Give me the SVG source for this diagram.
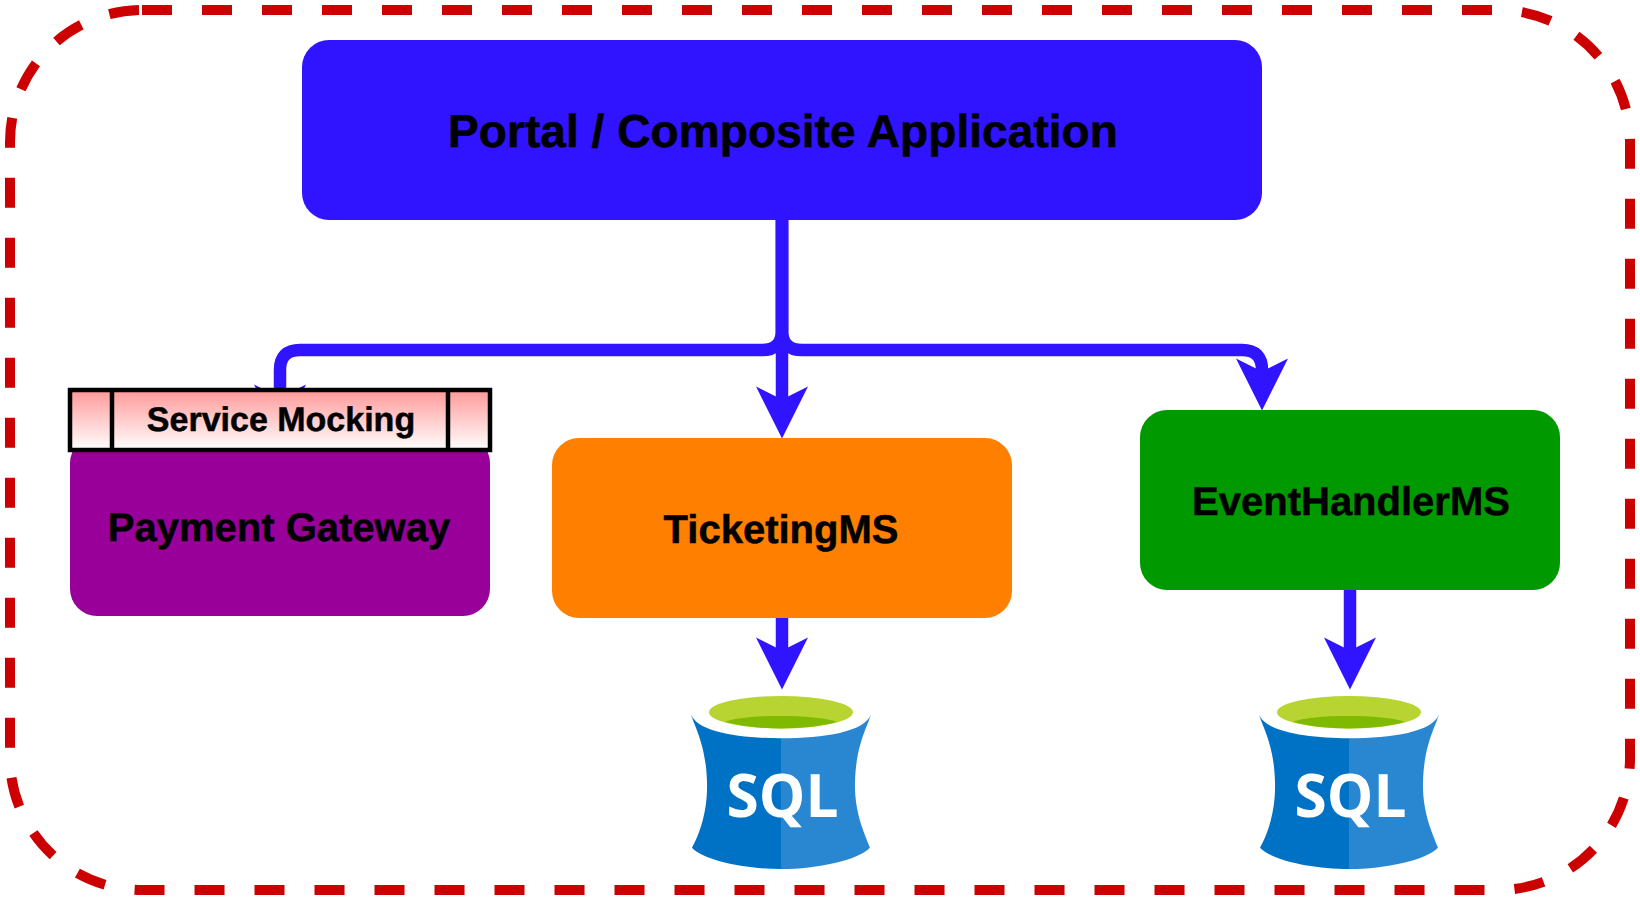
<svg xmlns="http://www.w3.org/2000/svg" xmlns:xlink="http://www.w3.org/1999/xlink" width="1640" height="900" viewBox="0 0 1640 900">
<style>
text{font-family:"Liberation Sans",Arial,sans-serif;font-weight:700;fill:#000;stroke:#000;stroke-width:.5px;text-anchor:middle;text-rendering:geometricPrecision}
.edge{fill:none;stroke:#3014ff;stroke-width:12.500px}
.head{fill:#3014ff}
.sql{font-family:"Open Sans","Noto Sans",sans-serif;font-weight:700;font-size:60px;fill:#fff;stroke:none}
</style>
<defs>
<linearGradient id="mock" x1="0" y1="0" x2="0" y2="1"><stop offset="0" stop-color="#ff9999"/><stop offset="1" stop-color="#ffffff"/></linearGradient>
<polygon id="arrow" class="head" points="0,0.500 -26,-51.500 0,-38.500 26,-51.500"/>
<g id="db">
<path fill="#0072c6" d="M691,714.300 C695,728 706,745 707,781.700 C708,812 699,835 692,847.700 C703,860 745,869 781,869 L781,738.300 C740,738.300 697,732 691,714.300Z"/>
<path fill="#2986d1" d="M871,714.300 C867,728 856,745 855,781.700 C854,812 865,835 870,847.700 C858,860 818,869 781,869 L781,738.300 C824,738.300 865,732 871,714.300Z"/>
<ellipse cx="781" cy="712.200" rx="72" ry="16.200" fill="#b8d432"/>
<path fill="#7fba00" d="M725,721.700 C745,714 815,714 837,721.700 C820,726.500 800,728.400 781,728.400 C762,728.400 742,726.500 725,721.700Z"/>
</g>
</defs>
<rect id="boundary" x="10" y="10" width="1620" height="880" rx="132" ry="132" fill="none" stroke="#cc0000" stroke-width="10" stroke-dasharray="30 30"/>
<g id="connectors">
<path class="edge" d="M782,220V330Q782,350 762,350H300Q280,350 280,370V400"/>
<use xlink:href="#arrow" href="#arrow" x="280" y="436"/>
<path class="edge" d="M782,220V400"/>
<use xlink:href="#arrow" href="#arrow" x="782" y="438"/>
<path class="edge" d="M782,220V330Q782,350 802,350H1242Q1262,350 1262,370V375"/>
<use xlink:href="#arrow" href="#arrow" x="1262" y="410"/>
<path class="edge" d="M782,618V655"/>
<use xlink:href="#arrow" href="#arrow" x="782" y="689"/>
<path class="edge" d="M1350,590V655"/>
<use xlink:href="#arrow" href="#arrow" x="1350" y="689"/>
</g>
<g id="portal">
<rect x="302" y="40" width="960" height="180" rx="27" fill="#3014ff"/>
<text x="783" y="147" font-size="46.150">Portal / Composite Application</text>
</g>
<g id="payment-gateway">
<rect x="70" y="436" width="420" height="180" rx="27" fill="#990099"/>
<text x="279" y="541" font-size="40">Payment Gateway</text>
</g>
<g id="service-mocking">
<rect x="70" y="390" width="420" height="60" fill="url(#mock)" stroke="#000" stroke-width="4.500"/>
<path d="M112,390V450M448,390V450" fill="none" stroke="#000" stroke-width="4.500"/>
<text x="281" y="431" font-size="34">Service Mocking</text>
</g>
<g id="ticketing">
<rect x="552" y="438" width="460" height="180" rx="27" fill="#ff8000"/>
<text x="781" y="543" font-size="40">TicketingMS</text>
</g>
<g id="event-handler">
<rect x="1140" y="410" width="420" height="180" rx="27" fill="#009900"/>
<text x="1351" y="515" font-size="40">EventHandlerMS</text>
</g>
<g id="sql-ticketing">
<use xlink:href="#db" href="#db"/>
<text class="sql" x="782.500" y="817.300" textLength="112" lengthAdjust="spacingAndGlyphs">SQL</text>
</g>
<g id="sql-event">
<use xlink:href="#db" href="#db" x="568"/>
<text class="sql" x="1350.500" y="817.300" textLength="112" lengthAdjust="spacingAndGlyphs">SQL</text>
</g>
</svg>
